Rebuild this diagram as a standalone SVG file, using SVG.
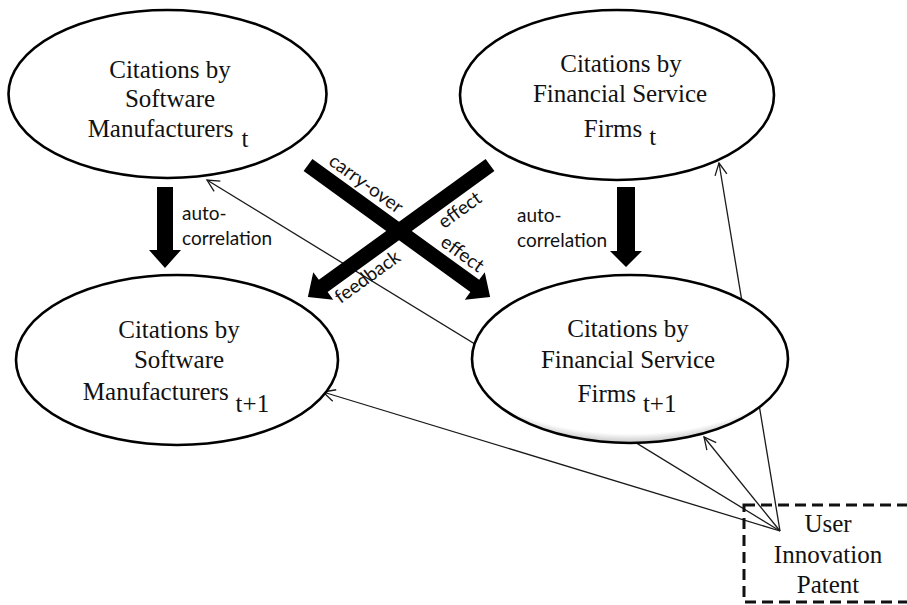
<svg xmlns="http://www.w3.org/2000/svg" width="907" height="605" viewBox="0 0 907 605">
  <defs>
    <style>
      .node { fill: #ffffff; stroke: #000000; stroke-width: 2.6; }
      .serif { font-family: "Liberation Serif", "Times New Roman", serif; font-size: 25px; fill: #111111; }
      .sans { font-family: Lato, "Open Sans", "Liberation Sans", sans-serif; font-size: 19px; fill: #111111; }
      .thin { fill: none; stroke: #1a1a1a; stroke-width: 1.3; }
      .block { fill: #000000; }
      .dash { fill: none; stroke: #111111; stroke-width: 3; stroke-dasharray: 11 6; }
    </style>
    <marker id="open" markerWidth="16" markerHeight="16" refX="14" refY="8" orient="auto" markerUnits="userSpaceOnUse">
      <path d="M2,2 L14,8 L2,14" fill="none" stroke="#1a1a1a" stroke-width="1.3"/>
    </marker>
    <radialGradient id="shade" cx="0.5" cy="0.36" r="0.68">
      <stop offset="0.86" stop-color="#ffffff"/>
      <stop offset="1" stop-color="#9a9a9a"/>
    </radialGradient>
  </defs>

  <!-- thin influence lines from the patent box -->
  <g id="connectors">
    <line class="thin" x1="780" y1="531" x2="323" y2="392" marker-end="url(#open)"/>
    <line class="thin" x1="780" y1="531" x2="207" y2="180" marker-end="url(#open)"/>
    <line class="thin" x1="780" y1="531" x2="704" y2="437" marker-end="url(#open)"/>
    <line class="thin" x1="780" y1="531" x2="719" y2="163" marker-end="url(#open)"/>
  </g>

  <g id="sw-t">
    <ellipse class="node" cx="167.5" cy="94" rx="159" ry="84"/>
    <text class="serif" x="170" y="78" text-anchor="middle">Citations by</text>
    <text class="serif" x="170" y="107" text-anchor="middle">Software</text>
    <text class="serif" x="168" y="137" text-anchor="middle">Manufacturers<tspan dx="8" dy="10">t</tspan></text>
  </g>

  <g id="fs-t">
    <ellipse class="node" cx="617" cy="95" rx="157" ry="85"/>
    <text class="serif" x="621" y="72" text-anchor="middle">Citations by</text>
    <text class="serif" x="620" y="102" text-anchor="middle">Financial Service</text>
    <text class="serif" x="620" y="137" text-anchor="middle">Firms<tspan dx="7" dy="8">t</tspan></text>
  </g>

  <g id="sw-t1">
    <ellipse class="node" cx="177" cy="360" rx="161" ry="85"/>
    <text class="serif" x="179" y="338" text-anchor="middle">Citations by</text>
    <text class="serif" x="179" y="368" text-anchor="middle">Software</text>
    <text class="serif" x="176" y="400" text-anchor="middle">Manufacturers<tspan dx="7" dy="12">t+1</tspan></text>
  </g>

  <g id="fs-t1">
    <ellipse cx="630" cy="359" rx="158" ry="84" fill="url(#shade)" stroke="#000000" stroke-width="2.6"/>
    <text class="serif" x="628" y="337" text-anchor="middle">Citations by</text>
    <text class="serif" x="628" y="368" text-anchor="middle">Financial Service</text>
    <text class="serif" x="627" y="402" text-anchor="middle">Firms<tspan dx="7" dy="10">t+1</tspan></text>
  </g>

  <g id="patent">
    <rect class="dash" x="744" y="505" width="170" height="97"/>
    <text class="serif" x="828" y="532" text-anchor="middle">User</text>
    <text class="serif" x="828" y="563" text-anchor="middle">Innovation</text>
    <text class="serif" x="828" y="593" text-anchor="middle">Patent</text>
  </g>

  <!-- block arrows: auto-correlation and cross effects -->
  <g id="block-arrows">
    <polygon class="block" points="157,187 173,187 173,250 181,250 165,268 149,250 157,250 157,187"/>
    <polygon class="block" points="617,187 635,187 635,251 642,251 626,267 610,251 617,251 617,187"/>
    <polygon class="block" transform="translate(308,165) rotate(35.95)" points="0,-7.5 206,-7.5 206,-17 225,0 206,17 206,7.5 0,7.5"/>
    <polygon class="block" transform="translate(490,165) rotate(144.05)" points="0,-7.5 206,-7.5 206,-17 225,0 206,17 206,7.5 0,7.5"/>
  </g>

  <g id="labels">
    <text class="sans" x="182" y="220">auto-</text>
    <text class="sans" x="182" y="245">correlation</text>
    <text class="sans" x="517" y="222">auto-</text>
    <text class="sans" x="517" y="247">correlation</text>
    <g transform="translate(308,165) rotate(35.95)">
      <text class="sans" x="15" y="-12.5">carry-over</text>
      <text class="sans" x="153" y="-12.5">effect</text>
    </g>
    <g transform="translate(308,297) rotate(-35.95)">
      <text class="sans" x="22" y="25">feedback</text>
      <text class="sans" x="150" y="25">effect</text>
    </g>
  </g>
</svg>
